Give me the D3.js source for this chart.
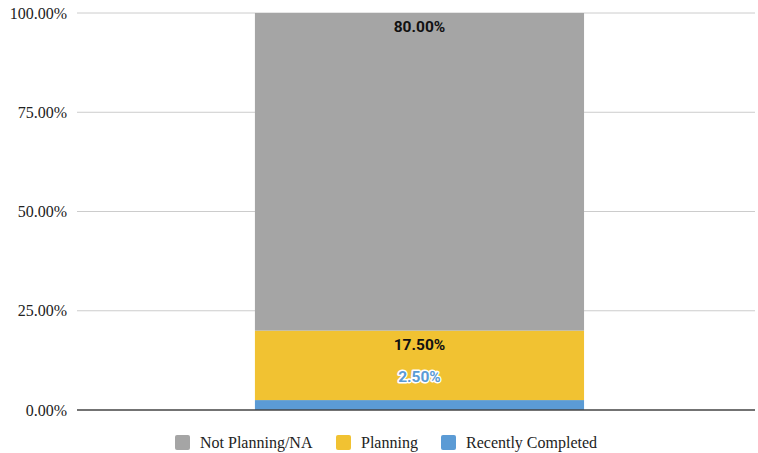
<!DOCTYPE html>
<html>
<head>
<meta charset="utf-8">
<script src="https://cdn.jsdelivr.net/npm/d3@7"></script>
<style>
  body { margin: 0; background: #fff; }
</style>
</head>
<body>
<div id="chart"></div>
<script>
// data
const categories = ["All"];
const seriesNames = ["Recently Completed", "Planning", "Not Planning/NA"];
const recentlyCompleted = [2.5];
const planning = [17.5];
const notPlanning = [80.0];
const yTicks = [0, 25, 50, 75, 100];
const legendOrder = ["Not Planning/NA", "Planning", "Recently Completed"];

const colors = {
  "Recently Completed": "#5b9bd5",
  "Planning": "#f1c232",
  "Not Planning/NA": "#a5a5a5"
};

const W = 758, H = 453;
const margin = { top: 13, right: 3, bottom: 43, left: 77 };
const innerW = W - margin.left - margin.right;
const innerH = H - margin.top - margin.bottom;

const svg = d3.select("#chart").append("svg")
  .attr("width", W)
  .attr("height", H);

const g = svg.append("g")
  .attr("transform", `translate(${margin.left},${margin.top})`);

// build rows for the stack
const rows = categories.map((c, i) => ({
  cat: c,
  "Recently Completed": recentlyCompleted[i],
  "Planning": planning[i],
  "Not Planning/NA": notPlanning[i]
}));

const stack = d3.stack().keys(seriesNames)(rows);

const x = d3.scaleBand()
  .domain(categories)
  .range([0, innerW])
  .paddingInner(0)
  .paddingOuter(0.53)
  .align(0.51);

const y = d3.scaleLinear()
  .domain([0, 100])
  .range([innerH, 0]);

// grid lines
g.append("g")
  .selectAll("line")
  .data(yTicks.filter(d => d > 0))
  .join("line")
    .attr("x1", 0)
    .attr("x2", innerW)
    .attr("y1", d => y(d))
    .attr("y2", d => y(d))
    .attr("stroke", "#cccccc")
    .attr("stroke-width", 1);

// y tick labels
g.append("g")
  .selectAll("text")
  .data(yTicks)
  .join("text")
    .attr("x", -10)
    .attr("y", d => y(d))
    .attr("dy", "0.35em")
    .attr("text-anchor", "end")
    .attr("font-family", "'Liberation Serif', 'Times New Roman', serif")
    .attr("font-size", 16)
    .attr("fill", "#222")
    .text(d => d.toFixed(2) + "%");

// bars
const layers = g.append("g")
  .selectAll("g")
  .data(stack)
  .join("g")
    .attr("fill", d => colors[d.key]);

layers.selectAll("rect")
  .data(d => d)
  .join("rect")
    .attr("x", d => x(d.data.cat))
    .attr("y", d => y(d[1]))
    .attr("width", x.bandwidth())
    .attr("height", d => y(d[0]) - y(d[1]));

// baseline
g.append("line")
  .attr("x1", 0)
  .attr("x2", innerW)
  .attr("y1", innerH)
  .attr("y2", innerH)
  .attr("stroke", "#444")
  .attr("stroke-width", 1.5);

// value labels
const labelFont = "Roboto, 'Liberation Sans', Arial, sans-serif";
const cx = x(categories[0]) + x.bandwidth() / 2;

g.append("text")
  .attr("x", cx)
  .attr("y", y(notPlanning[0] + planning[0] + recentlyCompleted[0]) + 19)
  .attr("text-anchor", "middle")
  .attr("font-family", labelFont)
  .attr("font-weight", "bold")
  .attr("font-size", 15.5)
  .attr("fill", "#111")
  .text(notPlanning[0].toFixed(2) + "%");

g.append("text")
  .attr("x", cx)
  .attr("y", y(planning[0] + recentlyCompleted[0]) + 19)
  .attr("text-anchor", "middle")
  .attr("font-family", labelFont)
  .attr("font-weight", "bold")
  .attr("font-size", 15.5)
  .attr("fill", "#111")
  .text(planning[0].toFixed(2) + "%");

// small segment label pushed up, with white halo
g.append("text")
  .attr("x", cx)
  .attr("y", y(planning[0] + recentlyCompleted[0]) + 51)
  .attr("text-anchor", "middle")
  .attr("font-family", labelFont)
  .attr("font-weight", "bold")
  .attr("font-size", 15.5)
  .attr("fill", colors["Recently Completed"])
  .attr("stroke", "#fff")
  .attr("stroke-width", 3)
  .attr("paint-order", "stroke")
  .attr("stroke-linejoin", "round")
  .text(recentlyCompleted[0].toFixed(2) + "%");

// legend
const legendX = [175, 336, 441];
const legend = svg.append("g")
  .selectAll("g")
  .data(legendOrder)
  .join("g")
    .attr("transform", (d, i) => `translate(${legendX[i]},435)`);

legend.append("rect")
  .attr("width", 15)
  .attr("height", 15)
  .attr("rx", 2)
  .attr("fill", d => colors[d]);

legend.append("text")
  .attr("x", 25)
  .attr("y", 13)
  .attr("font-family", "'Liberation Serif', 'Times New Roman', serif")
  .attr("font-size", 16)
  .attr("fill", "#222")
  .text(d => d);
</script>
</body>
</html>
